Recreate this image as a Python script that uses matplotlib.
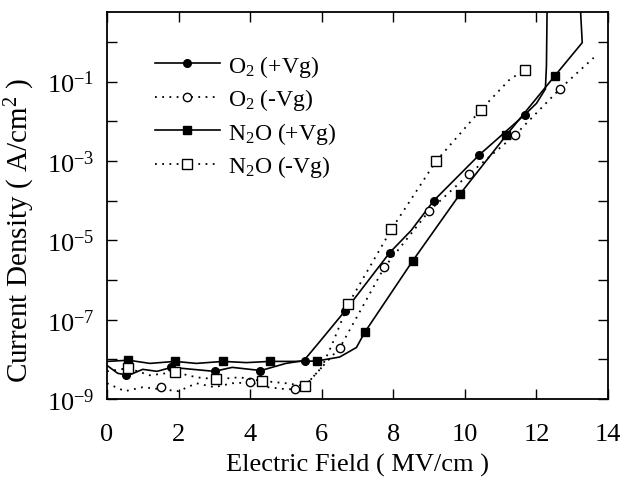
import numpy as np
from matplotlib import pyplot as plt

# pole elektryczne (MV/cm) i log10 gestosci pradu (A/cm^2)

# O2 (+Vg) - linia ciagla, pelne kolka
o2p_x = [0.0, 0.3, 0.6, 1.0, 1.4, 1.8, 2.4, 3.0, 3.5, 4.0, 4.3, 5.0, 5.5, 5.9, 6.65, 7.9, 8.5,
         9.13, 10.4, 11.68, 12.0, 12.25, 12.28, 12.3]
o2p_log = [-8.15, -8.35, -8.4, -8.25, -8.3, -8.2, -8.25, -8.3, -8.2, -8.25, -8.28, -8.1, -8.03, -7.6,
           -6.78, -5.31, -4.75, -4.0, -2.85, -1.83, -1.55, -1.19, -0.6, 1.0]
o2p_mx = [0.53, 1.78, 3.03, 4.28, 5.53, 6.65, 7.9, 9.13, 10.4, 11.68]
o2p_mlog = [-8.38, -8.2, -8.3, -8.28, -8.03, -6.78, -5.31, -4.0, -2.85, -1.83]

# O2 (-Vg) - linia kropkowana, puste kolka
o2n_x = [0.0, 0.5, 1.0, 1.5, 2.0, 2.5, 3.0, 3.5, 4.0, 4.5, 5.0, 5.25, 5.6, 6.0, 6.51, 7.75, 9.0,
         10.12, 11.4, 12.65, 13.2, 13.6]
o2n_log = [-8.6, -8.8, -8.7, -8.75, -8.8, -8.6, -8.7, -8.6, -8.58, -8.7, -8.75, -8.75, -8.6, -8.2,
           -7.7, -5.68, -4.26, -3.33, -2.35, -1.19, -0.73, -0.4]
o2n_mx = [1.5, 4.0, 5.25, 6.51, 7.75, 9.0, 10.12, 11.4, 12.65]
o2n_mlog = [-8.7, -8.57, -8.75, -7.7, -5.68, -4.26, -3.33, -2.35, -1.19]

# N2O (+Vg) - linia ciagla, pelne kwadraty
n2op_x = [0.0, 0.6, 1.2, 1.9, 2.5, 3.25, 3.9, 4.55, 5.2, 5.86, 6.5, 6.97, 7.2, 8.54, 9.86, 11.16,
          12.51, 13.28, 13.22]
n2op_log = [-8.05, -8.02, -8.1, -8.05, -8.1, -8.05, -8.08, -8.05, -8.05, -8.04, -7.94, -7.7, -7.32,
            -5.52, -3.84, -2.35, -0.86, -0.02, 1.0]
n2op_mx = [0.6, 1.9, 3.25, 4.55, 5.86, 7.2, 8.54, 9.86, 11.16, 12.51]
n2op_mlog = [-8.02, -8.05, -8.05, -8.05, -8.04, -7.32, -5.52, -3.84, -2.35, -0.86]

# N2O (-Vg) - linia kropkowana, puste kwadraty
n2on_x = [0.0, 0.59, 1.2, 1.9, 2.5, 3.06, 3.7, 4.32, 5.0, 5.53, 6.0, 6.3, 6.74, 7.95, 9.19, 10.45,
          11.26, 11.68]
n2on_log = [-8.3, -8.22, -8.4, -8.32, -8.45, -8.5, -8.45, -8.54, -8.6, -8.67, -8.2, -7.6, -6.61,
            -4.72, -3.01, -1.71, -0.94, -0.71]
n2on_mx = [0.59, 1.9, 3.06, 4.32, 5.53, 6.74, 7.95, 9.19, 10.45, 11.68]
n2on_mlog = [-8.22, -8.32, -8.5, -8.54, -8.67, -6.61, -4.72, -3.01, -1.71, -0.71]

labels = ['O$_2$ (+Vg)', 'O$_2$ (-Vg)', 'N$_2$O (+Vg)', 'N$_2$O (-Vg)']

plt.rcParams['font.family'] = ['Liberation Serif', 'DejaVu Serif']
plt.rcParams['mathtext.default'] = 'regular'

fig = plt.figure(figsize=(6.22, 4.85), dpi=100)
ax = fig.add_axes([0.172, 0.175, 0.8055, 0.798])

dots = (0, (1, 3))
l1, = ax.plot(o2p_x, 10 ** np.array(o2p_log), color='black', lw=1.2)
m1, = ax.plot(o2p_mx, 10 ** np.array(o2p_mlog), 'o', color='black', ms=5.5)
l2, = ax.plot(o2n_x, 10 ** np.array(o2n_log), color='black', lw=1.3, linestyle=dots)
m2, = ax.plot(o2n_mx, 10 ** np.array(o2n_mlog), 'o', mfc='white', mec='black', ms=6, mew=1)
l3, = ax.plot(n2op_x, 10 ** np.array(n2op_log), color='black', lw=1.2)
m3, = ax.plot(n2op_mx, 10 ** np.array(n2op_mlog), 's', color='black', ms=6)
l4, = ax.plot(n2on_x, 10 ** np.array(n2on_log), color='black', lw=1.3, linestyle=dots)
m4, = ax.plot(n2on_mx, 10 ** np.array(n2on_mlog), 's', mfc='white', mec='black', ms=6.5, mew=1)

ax.set_yscale('log')
ax.set_xlim(0, 14)
ax.set_ylim(1e-9, 10 ** 0.75)
ax.set_xticks(range(0, 15, 2))
ax.set_yticks([10.0 ** e for e in range(-9, 1)])
ax.set_yticklabels(['10$^{%d}$' % e if e % 2 else '' for e in range(-9, 1)])
ax.minorticks_off()
ax.tick_params(direction='in', top=True, right=True, length=7, width=1, labelsize=19)
ax.tick_params(axis='x', pad=17)
ax.tick_params(axis='y', pad=9)
for s in ax.spines.values():
    s.set_linewidth(1.3)

ax.set_xlabel('Electric Field ( MV/cm )', fontsize=19, labelpad=6)
ax.set_ylabel('Current Density ( A/cm$^2$ )', fontsize=21)
ax.yaxis.set_label_coords(-0.14, 0.437)

ax.legend([(l1, m1), (l2, m2), (l3, m3), (l4, m4)], labels, loc='upper left',
          bbox_to_anchor=(0.077, 0.92), frameon=False, fontsize=17, handlelength=2.75,
          labelspacing=0.32, handletextpad=0.34, borderaxespad=0)

plt.savefig('out.png', dpi=100)
